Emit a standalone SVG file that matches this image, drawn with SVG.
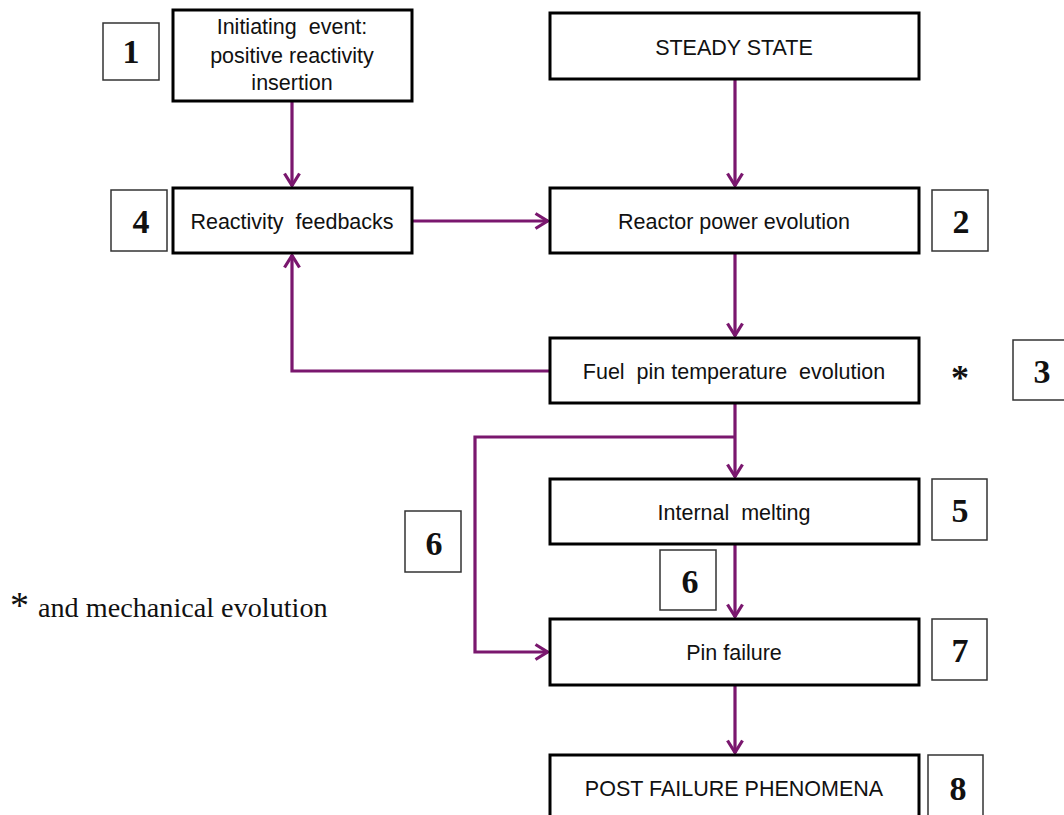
<svg xmlns="http://www.w3.org/2000/svg" width="1064" height="815" viewBox="0 0 1064 815">
<style>
.box{fill:#fff;stroke:#000;stroke-width:3}
.num{fill:#fff;stroke:#333;stroke-width:1.5}
.t{font-family:"Liberation Sans",Arial,sans-serif;font-size:21.5px;fill:#111;text-anchor:middle;white-space:pre}
.n{font-family:"Liberation Serif","Times New Roman",serif;font-size:34px;font-weight:bold;fill:#111;text-anchor:middle}
.c{fill:none;stroke:#7a176e;stroke-width:3.2}
</style>
<defs>
<marker id="ah" viewBox="0 0 15 18" refX="14" refY="9" markerWidth="15" markerHeight="18" markerUnits="userSpaceOnUse" orient="auto">
<polyline points="1.5,1.5 13.5,9 1.5,16.5" fill="none" stroke="#7a176e" stroke-width="3.2"/>
</marker>
</defs>
<rect width="1064" height="815" fill="#fff"/>
<g id="connectors">
<line class="c" x1="292" y1="101" x2="292" y2="186" marker-end="url(#ah)"/>
<line class="c" x1="735" y1="79" x2="735" y2="186" marker-end="url(#ah)"/>
<line class="c" x1="412" y1="221" x2="548" y2="221" marker-end="url(#ah)"/>
<line class="c" x1="735" y1="253" x2="735" y2="336" marker-end="url(#ah)"/>
<polyline class="c" points="550,371 292,371 292,255" marker-end="url(#ah)"/>
<line class="c" x1="735" y1="403" x2="735" y2="477" marker-end="url(#ah)"/>
<polyline class="c" points="735,437 475,437 475,652 548,652" marker-end="url(#ah)"/>
<line class="c" x1="735" y1="544" x2="735" y2="617" marker-end="url(#ah)"/>
<line class="c" x1="735" y1="685" x2="735" y2="753" marker-end="url(#ah)"/>
</g>
<g id="n1"><rect class="box" x="173" y="10" width="239" height="91"/>
<text class="t" x="292" y="34">Initiating  event:</text>
<text class="t" x="292" y="63">positive reactivity</text>
<text class="t" x="292" y="90">insertion</text></g>
<g id="l1"><rect class="num" x="103" y="23" width="56" height="57"/><text class="n" x="131" y="63">1</text></g>
<g id="steady"><rect class="box" x="550" y="13" width="369" height="66"/><text class="t" x="734" y="55">STEADY STATE</text></g>
<g id="feedback"><rect class="box" x="173" y="188" width="239" height="65"/><text class="t" x="292" y="229">Reactivity  feedbacks</text></g>
<g id="l4"><rect class="num" x="111" y="190" width="56" height="61"/><text class="n" x="141" y="233">4</text></g>
<g id="power"><rect class="box" x="550" y="188" width="369" height="65"/><text class="t" x="734" y="229">Reactor power evolution</text></g>
<g id="l2"><rect class="num" x="932" y="190" width="56" height="61"/><text class="n" x="961" y="233">2</text></g>
<g id="fuel"><rect class="box" x="550" y="338" width="369" height="65"/><text class="t" x="734" y="379">Fuel  pin temperature  evolution</text></g>
<text x="960" y="390" font-family="Liberation Serif,serif" font-size="36" font-weight="bold" fill="#111" text-anchor="middle">*</text>
<g id="l3"><rect class="num" x="1013" y="340" width="56" height="60"/><text class="n" x="1042" y="383">3</text></g>
<g id="melt"><rect class="box" x="550" y="479" width="369" height="65"/><text class="t" x="734" y="520">Internal  melting</text></g>
<g id="l5"><rect class="num" x="932" y="479" width="55" height="61"/><text class="n" x="960" y="522">5</text></g>
<g id="l6a"><rect class="num" x="405" y="511" width="56" height="61"/><text class="n" x="434" y="555">6</text></g>
<g id="l6b"><rect class="num" x="660" y="550" width="56" height="60"/><text class="n" x="690" y="593">6</text></g>
<g id="fail"><rect class="box" x="550" y="619" width="369" height="66"/><text class="t" x="734" y="660">Pin failure</text></g>
<g id="l7"><rect class="num" x="932" y="619" width="55" height="61"/><text class="n" x="960" y="662">7</text></g>
<g id="post"><rect class="box" x="550" y="755" width="369" height="70"/><text class="t" x="734" y="796">POST FAILURE PHENOMENA</text></g>
<g id="l8"><rect class="num" x="928" y="755" width="55" height="70"/><text class="n" x="958" y="800">8</text></g>
<text x="10" y="618" font-family="Liberation Serif,serif" font-size="38" fill="#111">*</text>
<text x="38" y="617" font-family="Liberation Serif,'Times New Roman',serif" font-size="28.2" fill="#111">and mechanical evolution</text>
</svg>
